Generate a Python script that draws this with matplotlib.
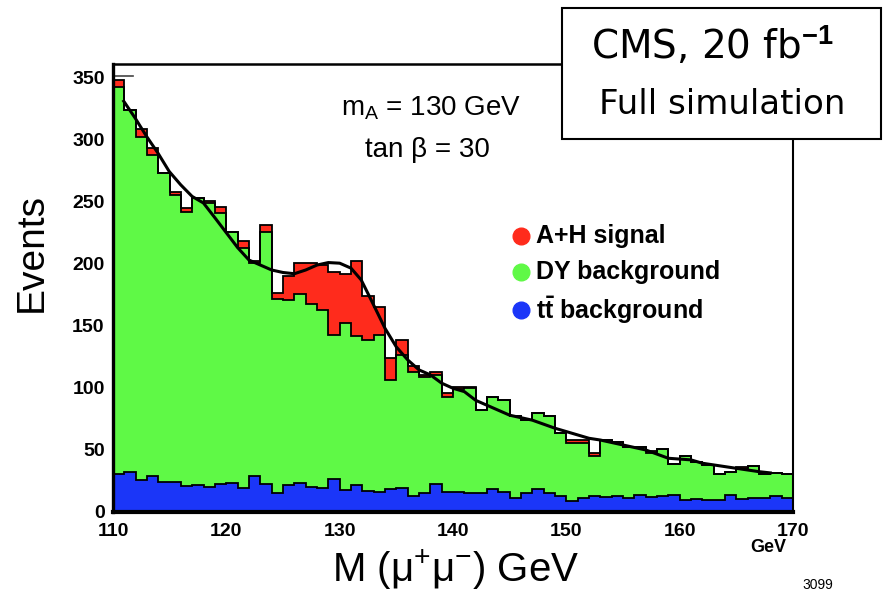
import matplotlib
matplotlib.use("Agg")
import matplotlib.pyplot as plt
from matplotlib.patches import Rectangle
import numpy as np

plt.rcParams['font.family'] = ['Liberation Sans', 'DejaVu Sans']
plt.rcParams['mathtext.fontset'] = 'custom'
plt.rcParams['mathtext.rm'] = 'Liberation Sans'
plt.rcParams['mathtext.it'] = 'Liberation Sans:italic'
plt.rcParams['mathtext.bf'] = 'Liberation Sans:bold'

# 1 GeV bins, 110 -> 170
edges = np.arange(110, 171, 1)

tt_bkg = [31, 32, 26, 29, 24, 24.5, 21, 22, 20.5, 22.5,
          23.5, 19, 29, 22.5, 15.5, 22, 23, 20.5, 19, 26.5,
          17.5, 22, 17, 16.5, 18.5, 19, 13, 15, 22.5, 16.5,
          16.5, 15, 15, 18.5, 16, 11.5, 15, 18.5, 15, 13,
          9, 11.5, 12.5, 12, 13, 11, 13.5, 12, 13, 14,
          10, 10.5, 10, 10, 13.5, 10.5, 11, 11, 13, 11]
dy_bkg = [311.5, 292, 276, 259, 249, 231, 221, 231, 228.5, 218.5,
          202.5, 194, 171.5, 203.5, 156.5, 149, 153, 147.5, 144, 116.5,
          134.5, 120, 121.5, 126, 87.5, 107.5, 99.5, 93.5, 88, 76,
          82.5, 85, 67, 74, 74.5, 65.5, 59.5, 61, 62, 51,
          47, 44.5, 33, 46, 43.5, 41.5, 39, 35.5, 37.5, 25,
          35, 30, 28, 20.5, 19, 24, 26, 19.5, 18.5, 19.5]
signal = [5.5, 0, 7, 5, 0, 2.5, 3, 0, 2, 4.5,
          0, 5, 2, 5, 4.5, 19, 24.5, 32.5, 36, 50,
          40, 60, 35.5, 22.5, 18, 12.5, 5, 2, 2.5, 3.5,
          2, 1, 0, 0, 0, 0, 0, 0, 0, 0,
          2, 2, 2, 0, 0, 0, 0, 1.5, 0, 0,
          0, 0, 0, 0, 0, 1.5, 0, 0, 0, 0]

# fitted curve
curve_x = [110.95, 111.95, 112.96, 113.96, 114.96, 115.97, 116.98, 117.98, 119, 120,
           121, 122, 123, 124, 125, 126, 127, 128, 129, 130,
           131, 131.9, 132.5, 133.2, 134, 135, 136, 137, 138, 139,
           140, 141, 142, 143, 145, 147, 149, 152, 153, 157,
           159, 161, 162, 165, 167, 168]
curve_y = [331, 317.5, 302.7, 289.3, 274.4, 263.7, 254.3, 249, 237, 225,
           213, 203, 199, 195, 193, 192, 195, 199, 201, 200.5,
           196.5, 187, 176, 163, 148, 133, 122.6, 114.5, 110.5, 103.8,
           99.7, 97, 90, 86, 78, 74, 67.5, 59.4, 58, 50,
           43.3, 42, 39.3, 35.2, 32.5, 31.5]

tt = np.array(tt_bkg)
dy_top = tt + np.array(dy_bkg)
sig_top = dy_top + np.array(signal)

fig = plt.figure(figsize=(8.88, 5.96), dpi=100)
ax = fig.add_axes([113/888, 1-512/596, 680/888, 448/596])

red = '#ff2b1c'
green = '#5ff946'
blue = '#1b36f8'

ax.stairs(sig_top, edges, baseline=dy_top, fill=True, color=red, zorder=1)
ax.stairs(dy_top, edges, baseline=tt, fill=True, color=green, zorder=1)
ax.stairs(tt, edges, baseline=0, fill=True, color=blue, zorder=1)
ax.stairs(sig_top, edges, baseline=None, color='black', lw=1.3, zorder=2)
ax.stairs(dy_top, edges, baseline=None, color='black', lw=1.3, zorder=2)
ax.stairs(tt, edges, baseline=None, color='black', lw=1.3, zorder=2)
ax.plot(curve_x, curve_y, color='black', lw=2.2, zorder=3)
ax.plot([110, 111.8], [351.5, 351.5], color='#444444', lw=1.2)

ax.set_xlim(110, 170)
ax.set_ylim(0, 361)
ax.set_xticks(range(110, 171, 10))
ax.set_yticks(range(0, 351, 50))
ax.tick_params(length=0, labelsize=14)
ax.tick_params(axis='y', pad=6)
ax.tick_params(axis='x', pad=8)
for lab in ax.get_xticklabels() + ax.get_yticklabels():
    lab.set_fontweight('bold')

ax.spines['left'].set_linewidth(2.4)
ax.spines['bottom'].set_linewidth(3)
ax.spines['top'].set_linewidth(1.8)
ax.spines['right'].set_linewidth(1.5)

ax.text(0.468, 0.902, r'm$_{\rm A}$ = 130 GeV', transform=ax.transAxes,
        ha='center', va='center', fontsize=20)
ax.text(0.463, 0.808, 'tan β = 30', transform=ax.transAxes,
        ha='center', va='center', fontsize=20)

legend_items = [('A+H signal', red, 0.616),
                ('DY background', green, 0.536),
                (r'$\mathbf{t\bar{t}}$ background', blue, 0.451)]
for label, col, yy in legend_items:
    ax.plot([0.6], [yy], 'o', color=col, ms=12, transform=ax.transAxes)
    ax.text(0.622, yy, label, transform=ax.transAxes, ha='left', va='center',
            fontsize=18, fontweight='bold')

fig.text(32/888, 1-253/596, 'Events', rotation=90, ha='center', va='center',
         fontsize=28)
fig.text(456/888, 1-570/596, r'M (μ$^{+}$μ$^{-}$) GeV', ha='center', va='center',
         fontsize=29)
fig.text(768/888, 1-548/596, 'GeV', ha='center', va='center', fontsize=13,
         fontweight='bold')
fig.text(818/888, 1-585/596, '3099', ha='center', va='center', fontsize=10)

box = Rectangle((562/888, 1-139/596), 319/888, 131/596, transform=fig.transFigure,
                facecolor='white', edgecolor='black', lw=1.5, zorder=10)
fig.patches.append(box)
fig.text(712/888, 1-46/596, r'CMS, 20 fb$^{\mathbf{-1}}$', ha='center', va='center',
         fontsize=28, family='DejaVu Sans', zorder=11)
fig.text(722/888, 1-104/596, 'Full simulation', ha='center', va='center',
         fontsize=24.5, family='DejaVu Sans', zorder=11)

fig.savefig('out.png', dpi=100)
